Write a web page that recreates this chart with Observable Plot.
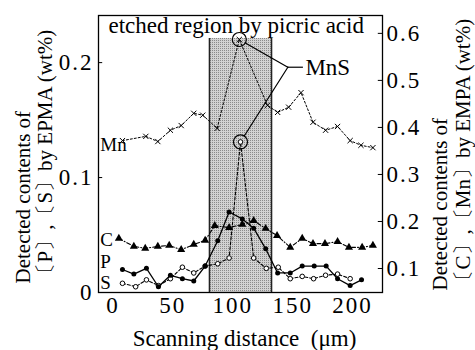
<!DOCTYPE html>
<html><head><meta charset="utf-8">
<script src="https://cdn.jsdelivr.net/npm/d3@7"></script>
<script src="https://cdn.jsdelivr.net/npm/@observablehq/plot@0.6"></script>
<style>
body{margin:0;background:#fff}
#chart{width:475px;height:350px}
#chart svg text{font-family:'Liberation Serif','DejaVu Serif',serif}
#chart svg g[aria-label="y-axis tick label"] text, #chart svg g[aria-label="x-axis tick label"] text{letter-spacing:2px}
</style>
</head><body><div id="chart"></div>
<script>
// ---- data ----
const mnX = [8,27.5,37.5,48,57,67.5,75,87,105.5,129,137.5,146.7,157,167,177.5,187.5,198,207,217];
const mnV = [0.372,0.381,0.370,0.394,0.404,0.430,0.426,0.398,0.587,0.447,0.432,0.443,0.474,0.411,0.394,0.402,0.372,0.362,0.357];
const cX  = [5,17.5,27,37.5,47,57,67.5,77,85,97,108,117.5,127.5,137,148,158,167,177,187.5,197,208,217];
const cV  = [0.164,0.147,0.143,0.147,0.149,0.140,0.151,0.160,0.191,0.187,0.194,0.202,0.185,0.170,0.145,0.164,0.153,0.153,0.157,0.145,0.145,0.149];
const pX  = [8,17.5,28,38,48,58,67.5,77,87.5,97,108,117.5,127.5,137.5,148,158,168,178,187.5,198,207.5];
const pV  = [0.020,0.016,0.021,0.005,0.015,0.012,0.010,0.023,0.045,0.070,0.064,0.056,0.038,0.017,0.017,0.023,0.023,0.023,0.012,0.006,0.011];
const sX  = [8,19,28,38,48,58,67.5,77,87.5,97,106.5,117.5,128,138,148,158,167.5,177.5,187.5,198];
const sV  = [0.008,0.005,0.011,0.006,0.012,0.022,0.017,0.023,0.025,0.030,0.131,0.030,0.021,0.022,0.012,0.014,0.012,0.015,0.016,0.012];

const xTicks = [0,50,100,150,200];
const leftTicks = [0,0.1,0.2];
const rightTicks = [0.1,0.2,0.3,0.4,0.5,0.6];
const xDomain = [-12,225];
const yLeftDomain = [0,0.241];
const yRightDomain = [0.049,0.638];
const etched = {x1:80.6, x2:132.4, top:0.221};
const mnsJunction = {x:146, y:0.196};
const mnsTextEnd = 159;

const seriesNames = ["Mn","C","P","S"];
const titleLeft = "Detected contents of\n〔P〕,〔S〕by EPMA (wt%)";
const titleRight = "Detected contents of\n〔C〕,〔Mn〕by EMPA (wt%)";
const titleX = "Scanning distance  (μm)";
const etchedLabel = "etched region by picric acid";
const mnsLabel = "MnS";

const FONT = "'Liberation Serif', 'DejaVu Serif', serif";

// right-axis values mapped onto the left y scale
const k = (yLeftDomain[1]-yLeftDomain[0])/(yRightDomain[1]-yRightDomain[0]);
const r2l = v => yLeftDomain[0] + (v - yRightDomain[0]) * k;
const l2r = v => yRightDomain[0] + (v - yLeftDomain[0]) / k;

const mn = mnX.map((x,i)=>({x, y:r2l(mnV[i])}));
const c  = cX.map((x,i)=>({x, y:r2l(cV[i])}));
const p  = pX.map((x,i)=>({x, y:pV[i]}));
const s  = sX.map((x,i)=>({x, y:sV[i]}));
const seriesData = [mn, c, p, s];

const peakOf = arr => arr.reduce((a,b)=> b.y > a.y ? b : a);
const peaks = [peakOf(mn), peakOf(s)];

const labelShift = [4, 1, -8, -0.5];
const labels = seriesNames.map((name,i)=>({name, x:xDomain[0]+1.5, y:seriesData[i][0].y, dy:labelShift[i]}));

const chart = Plot.plot({
  width: 475, height: 350,
  marginLeft: 98, marginRight: 93, marginTop: 15, marginBottom: 58,
  x: {domain: xDomain},
  y: {domain: yLeftDomain},
  style: {fontFamily: FONT, fontSize: "23px", color: "#000", background: "#fff"},
  marks: [
    Plot.rect([etched], {x1:"x1", x2:"x2", y1:0, y2:"top", fill:"url(#stipple)"}),
    Plot.ruleX([etched.x1, etched.x2], {y1:0, y2:etched.top, stroke:"#222", strokeWidth:1.5}),
    // Mn
    Plot.line(mn, {x:"x", y:"y", stroke:"#000", strokeWidth:1, strokeDasharray:"2,2"}),
    Plot.dot(mn, {x:"x", y:"y", symbol:"times", r:2.5, stroke:"#000", strokeWidth:1}),
    // C
    Plot.line(c, {x:"x", y:"y", stroke:"#000", strokeWidth:1.1, strokeDasharray:"4,2,1,2"}),
    Plot.dot(c, {x:"x", y:"y", symbol:"triangle", r:3, fill:"#000", stroke:"none"}),
    // S
    Plot.line(s, {x:"x", y:"y", stroke:"#000", strokeWidth:1.1, strokeDasharray:"3,2"}),
    Plot.dot(s, {x:"x", y:"y", r:2.3, fill:"#fff", stroke:"#000", strokeWidth:1}),
    // P
    Plot.line(p, {x:"x", y:"y", stroke:"#000", strokeWidth:1.3}),
    Plot.dot(p, {x:"x", y:"y", r:2.5, fill:"#000"}),
    // MnS circles and connectors
    Plot.dot(peaks, {x:"x", y:"y", r:7, fill:"none", stroke:"#000", strokeWidth:1.2}),
    Plot.arrow(peaks, {x1: mnsJunction.x, y1: mnsJunction.y, x2:"x", y2:"y", headLength:0, insetEnd:7, stroke:"#000", strokeWidth:1.2, bend:0}),
    Plot.ruleY([mnsJunction.y], {x1: mnsJunction.x, x2: mnsTextEnd, stroke:"#000", strokeWidth:1.2}),
    Plot.text([mnsLabel], {x: mnsTextEnd, y: mnsJunction.y, text: d=>d, textAnchor:"start", dx:2, fontFamily:FONT}),
    // series labels
    Plot.text(labels, {x:"x", y:"y", text:"name", textAnchor:"start", fontFamily:FONT, fontSize:19}),
    // axes
    Plot.axisX(xTicks, {tickSize:0, tickPadding:4, label:null, fontFamily:FONT}),
    Plot.axisY(leftTicks, {anchor:"left", tickSize:0, tickPadding:5, label:null, fontFamily:FONT, tickFormat: d => d===0 ? "0" : d.toFixed(1)}),
    Plot.ruleY(leftTicks.filter(d=>d>0), {x1: xDomain[0], x2: xDomain[0]+3.5, stroke:"#000"}),
    Plot.axisY(rightTicks.map(r2l), {anchor:"right", tickSize:0, tickPadding:4, label:null, fontFamily:FONT, tickFormat: d => l2r(d).toFixed(1)}),
    Plot.ruleY(rightTicks.map(r2l), {x1: xDomain[1]-3.5, x2: xDomain[1], stroke:"#000"}),
    Plot.frame({stroke:"#000", strokeWidth:1.3}),
    // text annotations
    Plot.text([etchedLabel], {frameAnchor:"top-left", text:d=>d, textAnchor:"start", lineAnchor:"middle", dx:10, dy:10, fontFamily:FONT}),
    Plot.text([titleLeft], {frameAnchor:"bottom-left", text:d=>d, rotate:-90, textAnchor:"start", lineAnchor:"middle", lineHeight:1.05, dx:-64.5, dy:-9, fontFamily:FONT, fontSize:21}),
    Plot.text([titleRight], {frameAnchor:"bottom-right", text:d=>d, rotate:-90, textAnchor:"start", lineAnchor:"middle", lineHeight:1.1, dx:68.5, dy:-2, fontFamily:FONT, fontSize:21}),
    Plot.text([titleX], {frameAnchor:"bottom", text:d=>d, lineAnchor:"middle", dx:4, dy:46, fontFamily:FONT})
  ]
});

// per-label vertical nudge (labels are drawn in data order)
d3.select(chart).selectAll("g[aria-label='text']").filter((d,i,n)=>d3.select(n[i]).selectAll("text").size()===seriesNames.length)
  .selectAll("text").each(function(_,i){ const t=d3.select(this); const tr=t.attr("transform")||""; t.attr("transform", tr + ` translate(0,${labels[i].dy})`); });

// stipple pattern for the etched region
const defs = d3.select(chart).insert("defs", ":first-child");
const pat = defs.append("pattern").attr("id","stipple").attr("patternUnits","userSpaceOnUse").attr("width",2).attr("height",2);
pat.append("rect").attr("width",2).attr("height",2).attr("fill","#d2d2d2");
pat.append("rect").attr("width",1).attr("height",1).attr("fill","#8a8a8a");

document.getElementById("chart").appendChild(chart);
</script></body></html>
